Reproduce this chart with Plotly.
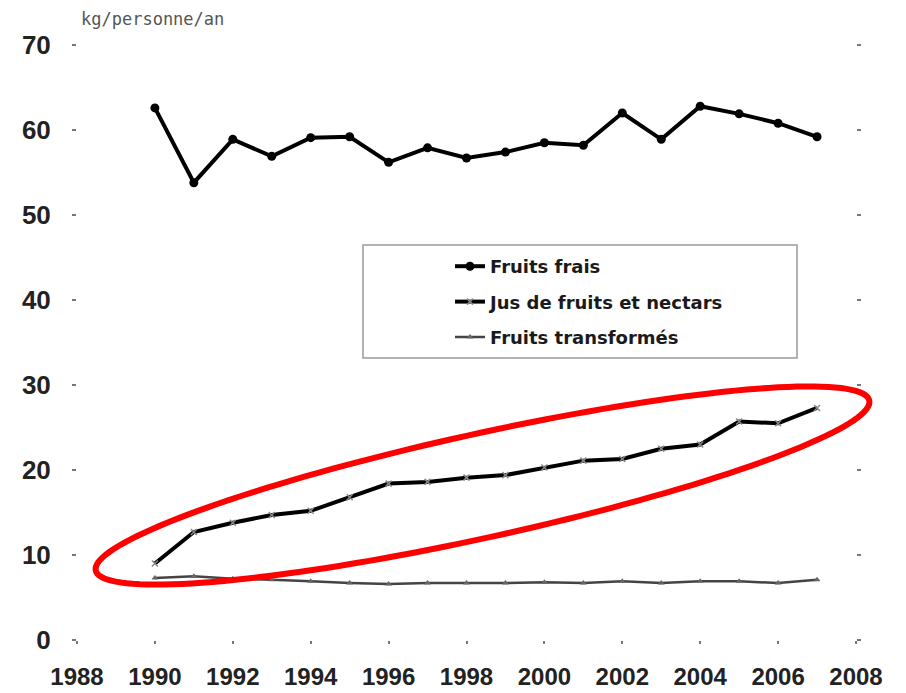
import numpy as np
import plotly.graph_objects as go

years = list(range(1990, 2008))
fruits_frais = [62.6, 53.8, 58.9, 56.9, 59.1, 59.2, 56.2, 57.9, 56.7, 57.4,
                58.5, 58.2, 62.0, 58.9, 62.8, 61.9, 60.8, 59.2]
jus_fruits = [9.0, 12.7, 13.8, 14.7, 15.2, 16.8, 18.4, 18.6, 19.1, 19.4,
              20.3, 21.1, 21.3, 22.5, 23.0, 25.7, 25.5, 27.3]
fruits_transformes = [7.3, 7.5, 7.2, 7.1, 6.9, 6.7, 6.6, 6.7, 6.7, 6.7,
                      6.8, 6.7, 6.9, 6.7, 6.9, 6.9, 6.7, 7.1]
series_names = ["Fruits frais", "Jus de fruits et nectars", "Fruits transformés"]
unit_label = "kg/personne/an"

# page body has an 8px margin: size the figure so the plot lands where the reference has it
OFF = 8
W, H = 906 - OFF, 693 - OFF
ML, MT = 77 - OFF, 45 - OFF
MR = W - (856 - OFF)
MB = H - (640 - OFF)
PW, PH = W - ML - MR, H - MT - MB

def px_to_paper(px, py):
    """page pixel -> paper coords"""
    fx, fy = px - OFF, py - OFF
    return (fx - ML) / PW, (H - MB - fy) / PH

fig = go.Figure()
fig.add_trace(go.Scatter(
    x=years, y=fruits_frais, name=series_names[0], mode="lines+markers",
    line=dict(color="#000000", width=4),
    marker=dict(symbol="circle", size=9, color="#000000"),
    legendgroup="a"))
fig.add_trace(go.Scatter(
    x=years, y=jus_fruits, name=series_names[1], mode="lines+markers",
    line=dict(color="#000000", width=4),
    marker=dict(symbol="x-thin", size=6, color="#888888",
                line=dict(color="#888888", width=1.5)),
    legendgroup="b"))
fig.add_trace(go.Scatter(
    x=years, y=fruits_transformes, name=series_names[2], mode="lines+markers",
    line=dict(color="#444444", width=2.5),
    marker=dict(symbol="triangle-up", size=6, color="#666666"),
    legendgroup="c"))

# legend frame
lx0, ly0 = px_to_paper(363, 358)
lx1, ly1 = px_to_paper(797, 245)
fig.add_shape(type="rect", xref="paper", yref="paper", x0=lx0, y0=ly0, x1=lx1, y1=ly1,
              line=dict(color="#9a9a9a", width=1.5), fillcolor="rgba(0,0,0,0)")

# red highlight ellipse (pixel-space rotated ellipse converted to paper)
cx, cy, a, b, th = 482.5, 485.5, 396, 52, np.deg2rad(12.4)
t = np.linspace(0, 2 * np.pi, 160)
ex = cx + a * np.cos(t) * np.cos(th) - b * np.sin(t) * np.sin(th)
ey = cy - (a * np.cos(t) * np.sin(th) + b * np.sin(t) * np.cos(th))
pts = [px_to_paper(x, y) for x, y in zip(ex, ey)]
path = "M " + " L ".join(f"{p[0]:.5f},{p[1]:.5f}" for p in pts) + " Z"
fig.add_shape(type="path", xref="paper", yref="paper", path=path,
              line=dict(color="#ff0000", width=6), fillcolor="rgba(0,0,0,0)")

fig.add_annotation(text=unit_label, xref="paper", yref="paper",
                   x=px_to_paper(79, 0)[0], y=px_to_paper(0, 19)[1],
                   xanchor="left", yanchor="middle", showarrow=False,
                   font=dict(family="DejaVu Sans Mono", size=17, color="#555555"))

legx, legy = px_to_paper(450, 248)
fig.update_layout(
    width=W, height=H, autosize=False,
    margin=dict(l=ML, r=MR, t=MT, b=MB, pad=0),
    paper_bgcolor="white", plot_bgcolor="white",
    showlegend=True,
    legend=dict(x=legx, y=legy, xanchor="left", yanchor="top",
                bgcolor="rgba(0,0,0,0)", borderwidth=0, tracegroupgap=9,
                font=dict(family="DejaVu Sans", size=18, color="#1a1a1a", weight="bold")),
    font=dict(family="Liberation Sans"),
)
fig.update_xaxes(range=[1988, 2008], tick0=1988, dtick=2, showgrid=False, zeroline=False,
                 showline=False, ticks="outside", ticklen=3, tickwidth=2, tickcolor="#777777",
                 ticklabelstandoff=12, automargin=False,
                 tickfont=dict(family="Liberation Sans", size=24, color="#222222", weight="bold"))
fig.update_yaxes(range=[0, 70], tick0=0, dtick=10, showgrid=False, zeroline=False,
                 showline=False, ticks="outside", ticklen=4, tickwidth=2, tickcolor="#777777",
                 mirror="ticks", ticklabelstandoff=16, automargin=False,
                 tickfont=dict(family="Liberation Sans", size=26, color="#222222", weight="bold"))

fig.write_html("out.html")
